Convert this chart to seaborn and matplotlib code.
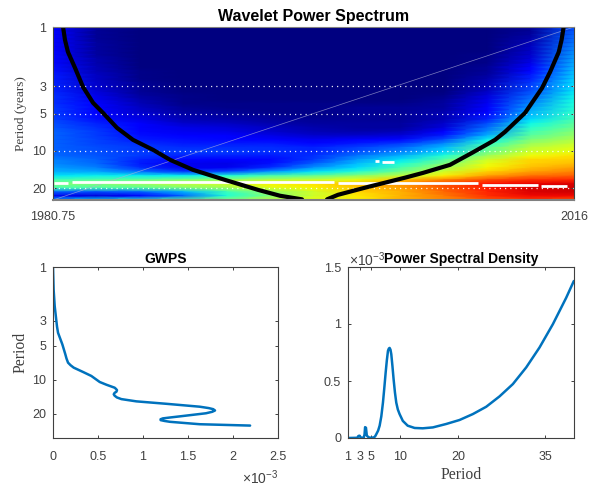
# Wavelet power spectrum with global spectrum and PSD panels
import pandas as pd
import seaborn as sns
import matplotlib.pyplot as plt

sns.set_theme(style='ticks')
plt.rcParams['font.family'] = ['Liberation Sans', 'DejaVu Sans']
plt.rcParams['mathtext.default'] = 'regular'

grey = '#404040'
blue = '#0072BD'

# wavelet power (0-1 on jet), rows top to bottom, columns left to right
power = [
    [.11, .02, .00, .00, .00, .00, .00, .00, .00, .00, .00, .02, .20],
    [.11, .02, .00, .00, .00, .00, .00, .00, .00, .00, .00, .02, .21],
    [.11, .02, .00, .00, .00, .00, .00, .00, .00, .00, .00, .03, .22],
    [.11, .02, .00, .00, .00, .00, .00, .00, .00, .00, .00, .04, .23],
    [.12, .03, .00, .00, .00, .00, .00, .00, .00, .00, .00, .05, .24],
    [.12, .03, .00, .00, .00, .00, .00, .00, .00, .00, .00, .06, .25],
    [.12, .03, .00, .00, .00, .00, .00, .00, .00, .00, .00, .06, .26],
    [.13, .03, .00, .00, .00, .00, .00, .00, .00, .00, .01, .07, .27],
    [.13, .04, .00, .00, .00, .00, .00, .00, .00, .00, .01, .08, .28],
    [.13, .04, .00, .00, .00, .00, .00, .00, .00, .00, .01, .09, .29],
    [.14, .05, .00, .00, .00, .00, .00, .00, .00, .00, .02, .11, .30],
    [.14, .05, .01, .00, .00, .00, .00, .00, .00, .00, .02, .13, .31],
    [.15, .06, .01, .00, .00, .00, .00, .00, .00, .00, .03, .15, .32],
    [.15, .06, .01, .00, .00, .00, .00, .00, .00, .00, .04, .16, .33],
    [.16, .07, .02, .00, .00, .00, .00, .00, .00, .00, .05, .18, .34],
    [.16, .07, .02, .00, .00, .00, .00, .00, .00, .00, .05, .19, .34],
    [.16, .08, .02, .00, .00, .00, .00, .00, .00, .00, .06, .20, .35],
    [.17, .09, .03, .01, .00, .00, .00, .00, .00, .01, .08, .22, .36],
    [.17, .10, .04, .01, .00, .00, .00, .00, .00, .02, .09, .24, .37],
    [.17, .11, .05, .01, .01, .01, .01, .01, .01, .03, .10, .26, .38],
    [.18, .12, .06, .02, .01, .01, .01, .02, .02, .03, .11, .28, .39],
    [.18, .12, .07, .03, .02, .01, .01, .02, .02, .04, .12, .30, .40],
    [.18, .13, .08, .04, .03, .02, .01, .02, .02, .05, .14, .31, .41],
    [.19, .14, .09, .05, .04, .03, .02, .02, .02, .05, .16, .34, .43],
    [.20, .16, .11, .07, .06, .04, .03, .03, .03, .07, .20, .37, .46],
    [.21, .17, .12, .09, .08, .06, .04, .03, .03, .08, .23, .40, .48],
    [.22, .18, .13, .10, .09, .07, .05, .04, .05, .11, .26, .43, .51],
    [.22, .18, .14, .12, .11, .09, .07, .07, .08, .15, .30, .46, .53],
    [.22, .19, .15, .14, .13, .12, .10, .11, .13, .20, .36, .50, .56],
    [.22, .19, .17, .15, .15, .15, .13, .15, .18, .26, .41, .54, .59],
    [.22, .20, .18, .17, .17, .17, .16, .19, .23, .31, .46, .58, .62],
    [.22, .20, .18, .18, .18, .17, .16, .20, .25, .33, .48, .60, .63],
    [.23, .21, .18, .16, .16, .15, .17, .24, .30, .39, .54, .64, .67],
    [.25, .22, .16, .13, .12, .13, .18, .28, .35, .45, .60, .68, .69],
    [.26, .23, .15, .10, .09, .14, .22, .31, .39, .50, .63, .69, .71],
    [.28, .25, .17, .10, .10, .17, .27, .34, .44, .55, .65, .71, .74],
    [.30, .29, .24, .18, .20, .28, .35, .40, .49, .60, .69, .74, .77],
    [.35, .36, .36, .36, .39, .44, .47, .52, .58, .66, .74, .79, .81],
    [.43, .45, .47, .50, .53, .57, .59, .63, .70, .77, .83, .86, .87],
    [.50, .51, .54, .58, .60, .65, .67, .71, .75, .83, .89, .91, .92],
    [.43, .44, .45, .50, .54, .62, .65, .70, .74, .82, .88, .92, .93],
    [.22, .20, .22, .30, .42, .52, .60, .68, .72, .80, .87, .92, .93],
    [.10, .08, .12, .22, .39, .51, .60, .66, .72, .78, .86, .90, .90],
    [.30, .35, .40, .47, .52, .58, .63, .66, .72, .76, .82, .85, .82],
]

# cone of influence
coi_left_year = [1981.43, 1981.56, 1981.76, 1982.24, 1982.78, 1983.46, 1984.13, 1985.08, 1986.16, 1987.52,
                 1988.67, 1990.22, 1992.39, 1994.62, 1996.11, 1997.6]
coi_left_period = [1, 1.27, 1.59, 2.14, 3.05, 4.10, 4.94, 6.53, 8.16, 9.83, 11.84, 14.26, 17.2, 20.7, 23.1, 24.7]
coi_right_year = [1999.29, 2000.03, 2002.06, 2004.57, 2005.78, 2007.61, 2009.1, 2010.66, 2011.33, 2012.69,
                  2013.84, 2014.38, 2014.97, 2015.16, 2015.3]
coi_right_period = [24.7, 22.7, 19.6, 16.5, 15.1, 13.0, 10.4, 8.16, 7.04, 4.94, 3.11, 2.31, 1.59, 1.27, 1]

# white ridge segments
ridge_start = [1980.82, 1982.04, 2000.03, 2009.78, 2013.77, 2002.54, 2003.01]
ridge_end = [1981.76, 1999.76, 2009.5, 2013.57, 2015.53, 2002.81, 2003.82]
ridge_period = [18.16, 17.8, 18.3, 18.74, 19.2, 12.17, 12.4]

period_ticks = [1, 3, 5, 10, 20]

# global wavelet spectrum (x 1e-3)
gwps_period = [1, 1.59, 2.23, 2.99, 3.4, 3.84, 4.87, 5.96, 6.5, 7.07, 7.45, 7.83, 8.55, 9.28, 10.5, 11.1, 11.8, 12.1,
               12.4, 12.8, 13.1, 13.5, 13.9, 14.4, 14.9, 15.6, 16.4, 17.4, 17.9, 18.3, 18.8, 19.3, 19.9, 21.2, 21.7,
               22.1, 22.5, 22.9, 23.3, 23.7, 24.9, 25.6]
gwps_value = [0, .007, .019, .037, .045, .056, .104, .137, .15, .167, .195, .23, .333, .426, .519, .593, .685, .70,
              .711, .705, .685, .675, .685, .71, .76, .926, 1.26, 1.63, 1.73, 1.78, 1.80, 1.77, 1.70, 1.41, 1.30,
              1.22, 1.195, 1.196, 1.24, 1.30, 1.63, 2.19]

# power spectral density (x 1e-3)
psd_period = [1, 2.6, 2.8, 3.0, 3.2, 3.7, 3.85, 3.95, 4.1, 4.25, 4.6, 5.0, 5.5, 5.7, 5.9, 6.2, 6.46, 6.75, 7.03, 7.25,
              7.5, 7.7, 7.9, 8.05, 8.18, 8.33, 8.47, 8.67, 8.87, 9.1, 9.33, 9.6, 9.9, 10.46, 11.3, 12.5, 13.9, 15.65,
              17.95, 20.25, 22.55, 24.85, 27.15, 29.45, 31.75, 34.05, 36.35, 38.65, 39.97]
psd_value = [0, .002, .018, .02, .004, .002, .03, .095, .09, .02, .005, .002, .006, .016, .035, .065, .108, .19, .31, .43,
             .575, .68, .765, .785, .79, .775, .735, .63, .515, .40, .31, .25, .21, .15, .108, .088, .085, .093,
             .123, .158, .21, .274, .365, .473, .619, .794, .998, 1.23, 1.377]

fig = plt.figure(figsize=(5.9, 4.9), dpi=100)


def box(x0, y0, x1, y1):
    return [x0 / 590, 1 - y1 / 490, (x1 - x0) / 590, (y1 - y0) / 490]


def style(ax):
    ax.tick_params(which='both', direction='in', length=2.5, width=0.7, color=grey,
                   labelcolor=grey, labelsize=9, top=True, right=True, pad=5)
    for s in ax.spines.values():
        s.set_color(grey)
        s.set_linewidth(0.8)
    ax.minorticks_off()


# top panel: heatmap below, real axes on top
heat_ax = fig.add_axes(box(53, 27, 574, 200))
sns.heatmap(pd.DataFrame(power), ax=heat_ax, cmap='jet', vmin=0, vmax=1, cbar=False,
            xticklabels=False, yticklabels=False, shading='gouraud')
heat_ax.set_xlim(0, len(power[0]) - 1)
heat_ax.set_ylim(len(power) - 1, 0)
heat_ax.set_axis_off()

top = fig.add_axes(box(53, 27, 574, 200), facecolor='none')
sns.lineplot(x=[1980.75, 2016], y=[25, 1], ax=top, color='#b0b0d8', lw=0.5, alpha=0.7)
for p in period_ticks[1:]:
    top.axhline(p, color='white', lw=0.9, ls=(0, (1, 3.2)), alpha=0.9)
top.hlines(ridge_period, ridge_start, ridge_end, color='white', lw=2)
sns.lineplot(x=coi_left_year, y=coi_left_period, ax=top, color='black', lw=3, sort=False, estimator=None)
sns.lineplot(x=coi_right_year, y=coi_right_period, ax=top, color='black', lw=3, sort=False, estimator=None)
top.set_yscale('log', base=2)
top.set_xlim(1980.75, 2016)
top.set_ylim(25, 1)
top.set_yticks(period_ticks)
top.set_yticklabels(period_ticks)
top.set_xticks([1980.75, 2016])
top.set_xticklabels(['1980.75', '2016'])
style(top)
top.tick_params(axis='x', length=0, pad=8)
top.spines['top'].set_color('#808080')
top.spines['bottom'].set_color('#808080')
top.spines['bottom'].set_linewidth(1.5)
top.set_title('Wavelet Power Spectrum', fontsize=11.5, fontweight='bold', color='black', pad=4)
top.set_xlabel('')
top.set_ylabel('Period (years)', family='Liberation Serif', fontsize=9.5, color=grey)
top.yaxis.set_label_coords(-0.049, 0.5)

# bottom left: global spectrum
left = fig.add_axes(box(53, 267, 278, 438))
sns.lineplot(x=gwps_value, y=gwps_period, ax=left, color=blue, lw=1.8, sort=False, estimator=None)
left.set_yscale('log', base=2)
left.set_xlim(0, 2.5)
left.set_ylim(33, 1)
left.set_yticks(period_ticks)
left.set_yticklabels(period_ticks)
left.set_xticks([0, 0.5, 1, 1.5, 2, 2.5])
left.set_xticklabels(['0', '0.5', '1', '1.5', '2', '2.5'])
style(left)
left.tick_params(axis='x', pad=9)
left.set_title('GWPS', fontsize=10, fontweight='bold', color='black', pad=3)
left.set_xlabel('')
left.set_ylabel('Period', family='Liberation Serif', fontsize=11.3, color=grey)
left.yaxis.set_label_coords(-0.11, 0.5)
left.text(1.0, -0.235, '×10$^{-3}$', transform=left.transAxes, ha='right', va='center', fontsize=10, color=grey)

# bottom right: power spectral density
right = fig.add_axes(box(348, 267, 574, 438))
sns.lineplot(x=psd_period, y=psd_value, ax=right, color=blue, lw=1.8, sort=False, estimator=None)
right.set_xlim(1, 40)
right.set_ylim(0, 1.5)
right.set_xticks([1, 3, 5, 10, 20, 35])
right.set_xticklabels(['1', '3', '5', '10', '20', '35'])
right.set_yticks([0, 0.5, 1, 1.5])
right.set_yticklabels(['0', '0.5', '1', '1.5'])
style(right)
right.tick_params(axis='x', pad=9)
right.set_title('Power Spectral Density', fontsize=10, fontweight='bold', color='black', pad=3)
right.set_ylabel('')
right.set_xlabel('Period', family='Liberation Serif', fontsize=11.3, color=grey, labelpad=3)
right.text(0.005, 1.045, '×10$^{-3}$', transform=right.transAxes, ha='left', va='center', fontsize=10, color=grey)

fig.savefig('out.png', dpi=100)
